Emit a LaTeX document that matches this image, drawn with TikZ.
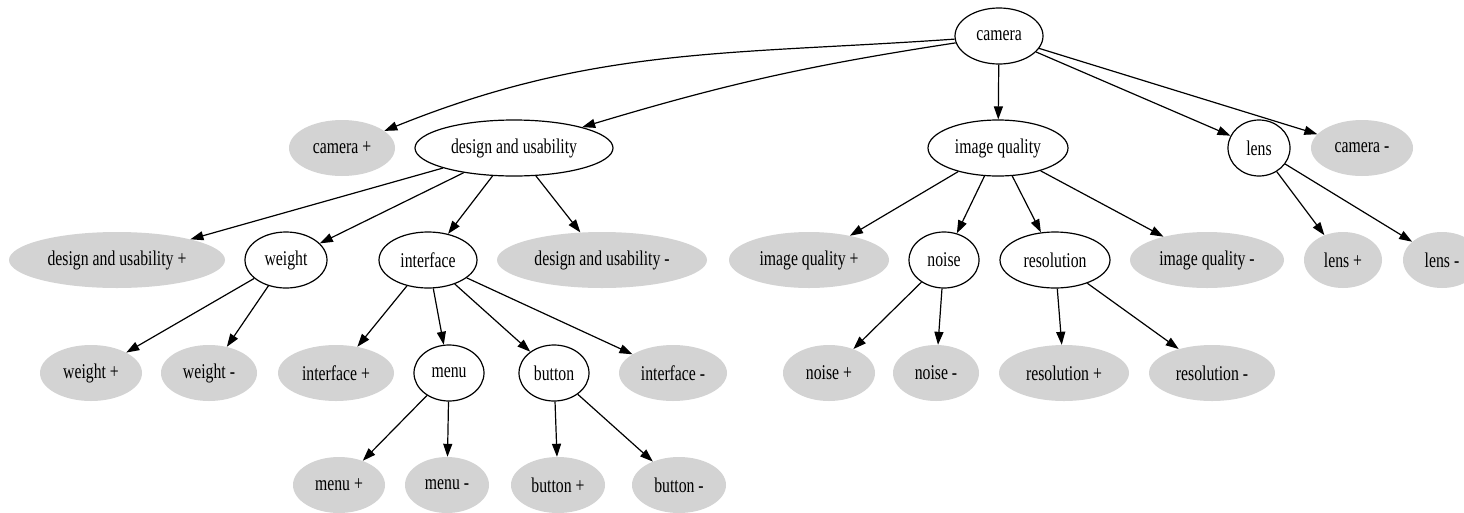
\documentclass[tikz,border=0pt]{standalone}
\usepackage{fontspec}
\setmainfont{Liberation Serif}
\usetikzlibrary{shapes.geometric,arrows.meta}
\tikzset{
  base/.style={ellipse, inner sep=0pt, minimum height=56pt,
    font=\fontsize{21}{24}\selectfont},
  inner/.style={base, draw, line width=1.2pt, fill=white},
  leaf/.style={base, fill=leafgray},
  arr/.style={line width=1.2pt, -{Triangle[length=13pt,width=9pt]}},
}
\definecolor{leafgray}{RGB}{211,211,211}
\newcommand{\lbl}[1]{\scalebox{0.75}[1]{#1}}
\begin{document}
\begin{tikzpicture}[x=1pt,y=-1pt]
\useasboundingbox (0,0) rectangle (1464,512);
% row 1
\node[inner, minimum width=88pt] (camera) at (999,36) {\lbl{camera}};
% row 2
\node[leaf, minimum width=106pt] (camplus) at (342,148) {\lbl{camera +}};
\node[inner, minimum width=198pt] (du) at (514,148) {\lbl{design and usability}};
\node[inner, minimum width=140pt] (iq) at (998,148) {\lbl{image quality}};
\node[inner, minimum width=62pt] (lens) at (1259,148) {\lbl{lens}};
\node[leaf, minimum width=102pt] (camminus) at (1362,148) {\lbl{camera -}};
% row 3
\node[leaf, minimum width=216pt] (duplus) at (117,260) {\lbl{design and usability +}};
\node[inner, minimum width=82pt] (weight) at (286,260) {\lbl{weight}};
\node[inner, minimum width=98pt] (interface) at (428,260) {\lbl{interface}};
\node[leaf, minimum width=210pt] (duminus) at (602,260) {\lbl{design and usability -}};
\node[leaf, minimum width=160pt] (iqplus) at (809,260) {\lbl{image quality +}};
\node[inner, minimum width=70pt] (noise) at (944,260) {\lbl{noise}};
\node[inner, minimum width=110pt] (resolution) at (1055,260) {\lbl{resolution}};
\node[leaf, minimum width=154pt] (iqminus) at (1207,260) {\lbl{image quality -}};
\node[leaf, minimum width=78pt] (lensplus) at (1343,260) {\lbl{lens +}};
\node[leaf, minimum width=78pt] (lensminus) at (1442,260) {\lbl{lens -}};
% row 4
\node[leaf, minimum width=102pt] (wplus) at (91,373) {\lbl{weight +}};
\node[leaf, minimum width=96pt] (wminus) at (209,373) {\lbl{weight -}};
\node[leaf, minimum width=116pt] (ifplus) at (336,373) {\lbl{interface +}};
\node[inner, minimum width=70pt] (menu) at (449,373) {\lbl{menu}};
\node[inner, minimum width=70pt] (button) at (554,373) {\lbl{button}};
\node[leaf, minimum width=108pt] (ifminus) at (673,373) {\lbl{interface -}};
\node[leaf, minimum width=92pt] (nplus) at (829,373) {\lbl{noise +}};
\node[leaf, minimum width=86pt] (nminus) at (936,373) {\lbl{noise -}};
\node[leaf, minimum width=130pt] (rplus) at (1064,373) {\lbl{resolution +}};
\node[leaf, minimum width=126pt] (rminus) at (1212,373) {\lbl{resolution -}};
% row 5
\node[leaf, minimum width=92pt] (mplus) at (339,485) {\lbl{menu +}};
\node[leaf, minimum width=84pt] (mminus) at (447,485) {\lbl{menu -}};
\node[leaf, minimum width=94pt] (bplus) at (558,485) {\lbl{button +}};
\node[leaf, minimum width=94pt] (bminus) at (679,485) {\lbl{button -}};
% edges
\draw[arr] (camera) to[out=184,in=22] (camplus);
\draw[arr] (camera) to[bend right=4] (du);
\draw[arr] (camera) -- (iq);
\draw[arr] (camera) -- (lens);
\draw[arr] (camera) -- (camminus);
\draw[arr] (du) -- (duplus);
\draw[arr] (du) -- (weight);
\draw[arr] (du) -- (interface);
\draw[arr] (du) -- (duminus);
\draw[arr] (weight) -- (wplus);
\draw[arr] (weight) -- (wminus);
\draw[arr] (interface) -- (ifplus);
\draw[arr] (interface) -- (menu);
\draw[arr] (interface) -- (button);
\draw[arr] (interface) -- (ifminus);
\draw[arr] (menu) -- (mplus);
\draw[arr] (menu) -- (mminus);
\draw[arr] (button) -- (bplus);
\draw[arr] (button) -- (bminus);
\draw[arr] (iq) -- (iqplus);
\draw[arr] (iq) -- (noise);
\draw[arr] (iq) -- (resolution);
\draw[arr] (iq) -- (iqminus);
\draw[arr] (noise) -- (nplus);
\draw[arr] (noise) -- (nminus);
\draw[arr] (resolution) -- (rplus);
\draw[arr] (resolution) -- (rminus);
\draw[arr] (lens) -- (lensplus);
\draw[arr] (lens) -- (lensminus);
\end{tikzpicture}
\end{document}
